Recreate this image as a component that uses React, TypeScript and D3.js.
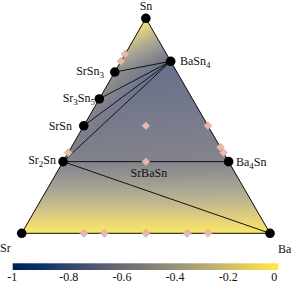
import React from "react";
import * as d3 from "d3";

// phases on the hull: composition as [Sr, Ba, Sn] and formation energy (eV/atom)
const phaseNames = ["Sn", "Sr", "Ba", "SrSn3", "Sr3Sn5", "SrSn", "Sr2Sn", "BaSn4", "Ba4Sn"];
const phaseComps = [
  [0, 0, 1], [1, 0, 0], [0, 1, 0], [1, 0, 3], [3, 0, 5], [1, 0, 1], [2, 0, 1], [0, 1, 4], [0, 2, 1],
];
const phaseEnergy = [0, 0, 0, -0.5, -0.56, -0.6, -0.6, -0.72, -0.58];

// hull facets and tie lines (indices into the phase list)
const facets = [
  [0, 3, 7], [3, 4, 7], [4, 5, 7], [5, 6, 7], [6, 8, 7], [6, 2, 8], [1, 6, 2],
];
const tieLines = [[3, 7], [4, 7], [5, 7], [6, 7], [6, 8], [6, 2]];

// unstable (above hull) compounds
const unstableComps = [
  [1, 0, 5], [1, 0, 4], [5, 0, 3], [0, 3, 2], [0, 5, 3], [0, 1, 1], [1, 1, 2], [1, 1, 1],
  [3, 1, 0], [2, 1, 0], [1, 1, 0], [1, 2, 0], [1, 3, 0],
];

const cbTicks = [-1, -0.8, -0.6, -0.4, -0.2, 0];

const W = 294, H = 284;
const xScale = d3.scaleLinear().domain([0, 1]).range([21.7, 270]);
const yScale = d3.scaleLinear().domain([0, 1]).range([233.3, 18.3]);
const color = d3.scaleSequential(d3.interpolateCividis).domain([-1, 0]);
const cbScale = d3.scaleLinear().domain([-1, 0]).range([12.7, 278.3]);
const FONT = "Liberation Serif, Times New Roman, serif";

function pos(c: number[]): [number, number] {
  const s = c[0] + c[1] + c[2];
  const ba = c[1] / s, sn = c[2] / s;
  return [xScale(ba + sn / 2), yScale(sn)];
}

// chemical formula with subscripted counts
function Formula({ f, x, y, anchor }: { f: string; x: number; y: number; anchor: string }) {
  const parts = f.match(/[A-Za-z]+|\d+/g) || [];
  return (
    <text x={x} y={y} textAnchor={anchor} fontSize={12} fontFamily={FONT} fill="#111">
      {parts.map((p, i) =>
        /\d/.test(p) ? (
          <tspan key={i} fontSize={9} dy={3}>{p}</tspan>
        ) : (
          <tspan key={i} dy={i > 0 && /\d/.test(parts[i - 1]) ? -3 : 0}>{p}</tspan>
        )
      )}
    </text>
  );
}

const labelPos: Record<string, [number, number, string]> = {
  Sn: [146, 10, "middle"],
  Sr: [0, 252, "start"],
  Ba: [278, 253, "start"],
  SrSn3: [104, 75, "end"],
  Sr3Sn5: [95, 102, "end"],
  SrSn: [72, 130, "end"],
  Sr2Sn: [56, 164, "end"],
  BaSn4: [180, 65, "start"],
  Ba4Sn: [236, 166, "start"],
};

export default function App() {
  const pts = phaseComps.map(pos);

  const grads = facets.map((f, k) => {
    const [p0, p1, p2] = f.map((i) => pts[i]);
    const [e0, e1, e2] = f.map((i) => phaseEnergy[i]);
    const d1 = [p1[0] - p0[0], p1[1] - p0[1]];
    const d2 = [p2[0] - p0[0], p2[1] - p0[1]];
    const de1 = e1 - e0, de2 = e2 - e0;
    const det = d1[0] * d2[1] - d1[1] * d2[0];
    const a = (de1 * d2[1] - de2 * d1[1]) / det;
    const b = (d1[0] * de2 - d2[0] * de1) / det;
    const es = f.map((i) => phaseEnergy[i]);
    const emin = d3.min(es)!, emax = d3.max(es)!;
    const pmin = pts[f[es.indexOf(emin)]];
    const g2 = a * a + b * b;
    const end = [pmin[0] + (a * (emax - emin)) / g2, pmin[1] + (b * (emax - emin)) / g2];
    const stops = d3.range(11).map((j) => {
      const t = j / 10;
      return { t, c: color(emin + t * (emax - emin)) };
    });
    return { id: "g" + k, x1: pmin[0], y1: pmin[1], x2: end[0], y2: end[1], stops };
  });

  const outline = [pts[0], pts[1], pts[2]];
  const outlineD = "M" + outline.map((p) => p.join(",")).join("L") + "Z";

  return (
    <svg width={W} height={H} style={{ position: "absolute", left: 0, top: 0, background: "#fff" }}>
      <defs>
        {grads.map((g) => (
          <linearGradient key={g.id} id={g.id} gradientUnits="userSpaceOnUse" x1={g.x1} y1={g.y1} x2={g.x2} y2={g.y2}>
            {g.stops.map((s, i) => (
              <stop key={i} offset={s.t} stopColor={s.c} />
            ))}
          </linearGradient>
        ))}
        <linearGradient id="cb" x1="0" y1="0" x2="1" y2="0">
          {d3.range(21).map((j) => (
            <stop key={j} offset={j / 20} stopColor={color(-1 + j / 20)} />
          ))}
        </linearGradient>
      </defs>

      {facets.map((f, k) => (
        <path key={k} d={"M" + f.map((i) => pts[i].join(",")).join("L") + "Z"} fill={`url(#g${k})`} stroke={`url(#g${k})`} strokeWidth={0.5} />
      ))}
      {/* soft light wash like the shaded surface of the original */}
      <path d={outlineD} fill="#dfe6ff" fillOpacity={0.2} />

      <path d={outlineD} fill="none" stroke="#111" strokeWidth={1} />

      {tieLines.map(([i, j], k) => (
        <line key={k} x1={pts[i][0]} y1={pts[i][1]} x2={pts[j][0]} y2={pts[j][1]} stroke="#111" strokeWidth={1} />
      ))}

      {unstableComps.map((c, k) => {
        const [x, y] = pos(c);
        const r = 4;
        return (
          <path key={k} d={`M${x},${y - r}L${x + r},${y}L${x},${y + r}L${x - r},${y}Z`} fill="#e9b9a9" stroke="#c99a8c" strokeWidth={0.6} />
        );
      })}

      {pts.map((p, k) => (
        <circle key={k} cx={p[0]} cy={p[1]} r={4.8} fill="#000" />
      ))}

      {phaseNames.map((n) => {
        const [x, y, a] = labelPos[n];
        return <Formula key={n} f={n} x={x} y={y} anchor={a} />;
      })}
      <text x={148.8} y={177} textAnchor="middle" fontSize={12} fontFamily={FONT} fill="#111">
        SrBaSn
      </text>

      <rect x={cbScale(-1)} y={263.3} width={cbScale(0) - cbScale(-1)} height={6.7} fill="url(#cb)" />
      {cbTicks.map((t) => (
        <text key={t} x={t === -1 ? cbScale(t) - 0.5 : t === 0 ? cbScale(t) - 4 : cbScale(t) + 3} y={281} textAnchor="middle" fontSize={12} fontFamily={FONT} fill="#111">
          {t === 0 ? "0" : String(t)}
        </text>
      ))}
    </svg>
  );
}
